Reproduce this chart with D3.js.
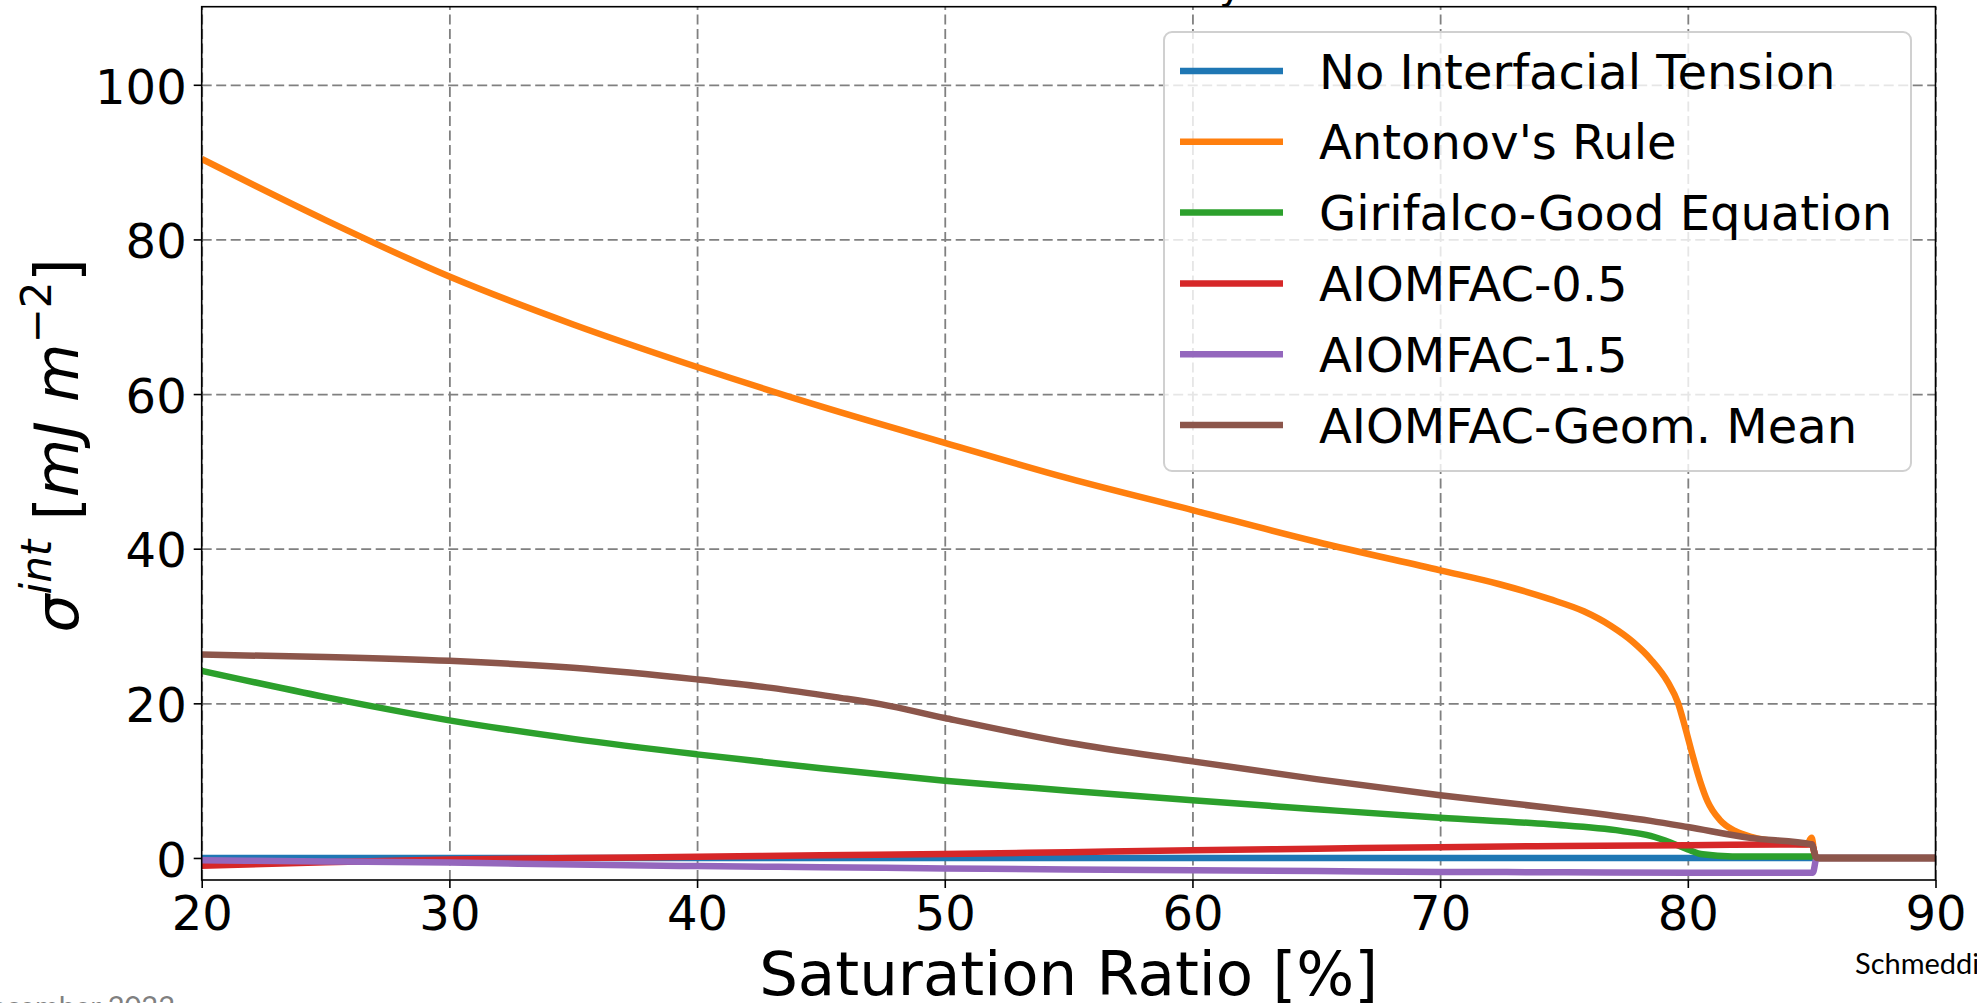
<!DOCTYPE html>
<html>
<head>
<meta charset="utf-8">
<script src="https://cdn.jsdelivr.net/npm/d3@7"></script>
<style>
  html, body { margin: 0; padding: 0; background: #ffffff; }
  svg { display: block; }
  text { font-family: "DejaVu Sans", sans-serif; }
</style>
</head>
<body>
<div id="chart"></div>
<script>
// values
var seriesNames = ["No Interfacial Tension", "Antonov's Rule", "Girifalco-Good Equation",
    "AIOMFAC-0.5", "AIOMFAC-1.5", "AIOMFAC-Geom. Mean"];
var seriesColors = ["#1f77b4", "#ff7f0e", "#2ca02c", "#d62728", "#9467bd", "#8c564b"];

var xTicks = [20, 30, 40, 50, 60, 70, 80, 90];
var yTicks = [0, 20, 40, 60, 80, 100];

var noTensionX = [20, 50, 85.2, 90];
var noTensionY = [0, 0, 0, 0];

var antonovX = [20, 25, 30, 35, 40, 45, 50, 55, 60, 65, 70, 72.4, 74.4, 75.8, 76.9, 77.8, 78.5,
    79.2, 79.6, 79.9, 80.2, 80.5, 80.8, 81.3, 81.9, 82.6, 83.8, 84.8, 85.0, 85.15, 90];
var antonovY = [90.4, 82.5, 75.2, 69.0, 63.5, 58.4, 53.7, 49.1, 45.0, 40.9, 37.2, 35.4, 33.5, 31.9, 30.0, 27.9, 25.7,
    22.7, 20.1, 16.8, 13.2, 9.9, 7.3, 4.9, 3.5, 2.7, 2.05, 1.76, 2.6, 0, 0];

var girifalcoX = [20, 25, 30, 35, 40, 45, 50, 55, 60, 65, 70, 74.4, 77.3, 78.5, 79.3, 80, 80.6, 81.8, 85.0, 85.2, 90];
var girifalcoY = [24.2, 20.8, 17.8, 15.4, 13.4, 11.6, 10.0, 8.7, 7.45, 6.3, 5.2, 4.35, 3.5, 2.85, 2.0, 1.1, 0.47, 0.2, 0.2, 0, 0];

var aiomfac05X = [20, 25, 30, 35, 40, 45, 50, 55, 60, 65, 70, 75, 80, 85.0, 85.2, 90];
var aiomfac05Y = [-1.0, -0.55, -0.2, 0.0, 0.15, 0.35, 0.5, 0.75, 1.0, 1.2, 1.4, 1.55, 1.65, 1.76, 0, 0];

var aiomfac15X = [20, 25, 30, 35, 40, 45, 50, 55, 60, 65, 70, 75, 80, 85.05, 85.2, 90];
var aiomfac15Y = [-0.3, -0.45, -0.6, -0.85, -1.05, -1.2, -1.35, -1.5, -1.6, -1.7, -1.8, -1.85, -1.9, -1.9, 0, 0];

var geomMeanX = [20, 25, 30, 35, 40, 43, 45.6, 47.4, 50, 55, 60, 65, 70, 74.4, 78.5, 80, 82.5, 85.0, 85.2, 90];
var geomMeanY = [26.3, 26.0, 25.5, 24.6, 23.1, 22.0, 20.8, 19.9, 18.1, 14.9, 12.5, 10.2, 8.1, 6.5, 4.8, 4.0, 2.6, 1.76, 0, 0];

var seriesX = [noTensionX, antonovX, girifalcoX, aiomfac05X, aiomfac15X, geomMeanX];
var seriesY = [noTensionY, antonovY, girifalcoY, aiomfac05Y, aiomfac15Y, geomMeanY];

var W = 1977, H = 1003;
var margin = { top: 6.7, right: 41.5, bottom: 123, left: 201.7 };
var width = W - margin.left - margin.right;
var height = H - margin.top - margin.bottom;

var svg = d3.select("#chart").append("svg")
    .attr("width", W)
    .attr("height", H);

var g = svg.append("g")
    .attr("transform", "translate(" + margin.left + "," + margin.top + ")");

var x = d3.scaleLinear().domain([20, 90]).range([0, width]);
var y = d3.scaleLinear().domain([-2.85, 110.1]).range([height, 0]);

// grid
var gx = g.append("g")
    .attr("transform", "translate(0," + height + ")")
    .call(d3.axisBottom(x).tickValues(xTicks).tickSize(-height).tickFormat(""));
var gy = g.append("g")
    .call(d3.axisLeft(y).tickValues(yTicks).tickSize(-width).tickFormat(""));
[gx, gy].forEach(function (a) {
    a.select(".domain").remove();
    a.selectAll("line")
        .attr("stroke", "#808080")
        .attr("stroke-width", 1.8)
        .attr("stroke-dasharray", "10,4.5");
});

// lines
g.append("clipPath").attr("id", "plotClip")
    .append("rect").attr("x", 0).attr("y", 0).attr("width", width).attr("height", height);

var line = d3.line()
    .x(function (d) { return x(d[0]); })
    .y(function (d) { return y(d[1]); })
    .curve(d3.curveMonotoneX);

var lines = g.append("g").attr("clip-path", "url(#plotClip)");
seriesNames.forEach(function (name, i) {
    var pts = seriesX[i].map(function (v, j) { return [v, seriesY[i][j]]; });
    lines.append("path")
        .datum(pts)
        .attr("fill", "none")
        .attr("stroke", seriesColors[i])
        .attr("stroke-width", 6.5)
        .attr("stroke-linejoin", "round")
        .attr("stroke-linecap", "butt")
        .attr("d", line);
});

// axes
var ax = g.append("g")
    .attr("transform", "translate(0," + height + ")")
    .call(d3.axisBottom(x).tickValues(xTicks).tickSize(8).tickPadding(8));
var ay = g.append("g")
    .call(d3.axisLeft(y).tickValues(yTicks).tickSize(8).tickPadding(7));
[ax, ay].forEach(function (a) {
    a.select(".domain").remove();
    a.selectAll("line").attr("stroke", "#000").attr("stroke-width", 1.6);
    a.selectAll("text")
        .attr("fill", "#000")
        .style("font-family", "'DejaVu Sans', sans-serif")
        .style("font-size", "48px");
});
ay.selectAll("text").attr("dy", "0.38em");

g.append("rect")
    .attr("x", 0).attr("y", 0)
    .attr("width", width).attr("height", height)
    .attr("fill", "none")
    .attr("stroke", "#000")
    .attr("stroke-width", 1.6);

// legend
var legend = svg.append("g");
legend.append("rect")
    .attr("x", 1164).attr("y", 32)
    .attr("width", 747).attr("height", 439)
    .attr("rx", 8).attr("ry", 8)
    .attr("fill", "#ffffff").attr("fill-opacity", 0.8)
    .attr("stroke", "#d0d0d0").attr("stroke-width", 2);
seriesNames.forEach(function (name, i) {
    var ly = 71 + i * 70.8;
    legend.append("line")
        .attr("x1", 1180).attr("x2", 1283)
        .attr("y1", ly).attr("y2", ly)
        .attr("stroke", seriesColors[i])
        .attr("stroke-width", 6.5);
    legend.append("text")
        .attr("x", 1319).attr("y", ly + 17.5)
        .style("font-size", "48px")
        .attr("fill", "#000")
        .text(name);
});

// axis titles
svg.append("text")
    .attr("x", margin.left + width / 2)
    .attr("y", 995)
    .attr("text-anchor", "middle")
    .style("font-size", "61px")
    .text("Saturation Ratio [%]");

var yl = svg.append("text")
    .attr("transform", "translate(78," + (margin.top + height / 2 + 2) + ") rotate(-90)")
    .attr("text-anchor", "middle")
    .style("font-size", "60px")
    .style("white-space", "pre");
yl.append("tspan").style("font-style", "italic").text("\u03c3");
yl.append("tspan").style("font-style", "italic").style("font-size", "42px").attr("dy", -27).text("int");
yl.append("tspan").attr("dy", 27).text(" [");
yl.append("tspan").style("font-style", "italic").text("mJ m");
yl.append("tspan").style("font-size", "42px").attr("dy", -27).text("\u22122");
yl.append("tspan").attr("dy", 27).text("]");

// slide remnants around the figure
svg.append("text")
    .attr("x", 1219).attr("y", -2)
    .style("font-size", "40px")
    .text("y");
svg.append("text")
    .attr("x", 175).attr("y", 1017)
    .attr("text-anchor", "end")
    .attr("fill", "#808080")
    .style("font-family", "Lato, sans-serif")
    .style("font-size", "29px")
    .text("December 2022");
svg.append("text")
    .attr("x", 1855).attr("y", 974)
    .style("font-family", "Lato, sans-serif")
    .style("font-size", "29px")
    .text("Schmedding et al.");
</script>
</body>
</html>
